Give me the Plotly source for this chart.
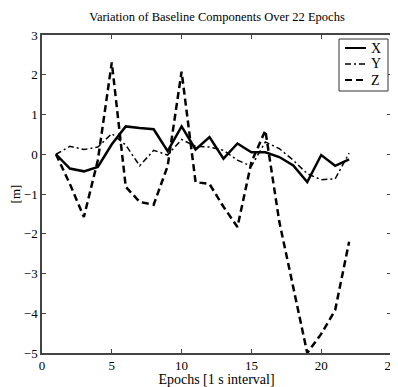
import plotly.graph_objects as go

epochs = list(range(1, 23))
x_vals = [0.0, -0.36, -0.43, -0.32, 0.25, 0.70, 0.66, 0.63, 0.08, 0.70, 0.12, 0.43,
          -0.11, 0.27, 0.05, 0.05, -0.07, -0.28, -0.70, -0.02, -0.29, -0.13]
y_vals = [0.0, 0.20, 0.12, 0.18, 0.52, 0.23, -0.29, 0.10, -0.02, 0.37, 0.20, 0.18,
          0.10, -0.15, -0.30, 0.31, 0.14, -0.15, -0.49, -0.64, -0.62, 0.03]
z_vals = [0.0, -0.75, -1.58, -0.15, 2.31, -0.82, -1.20, -1.27, -0.30, 2.08, -0.70, -0.75,
          -1.32, -1.83, -0.20, 0.60, -1.70, -3.35, -5.0, -4.52, -3.92, -2.20]
series_names = ["X", "Y", "Z"]
title_text = "Variation of Baseline Components Over 22 Epochs"
x_title = "Epochs [1 s interval]"
y_title = "[m]"

FONT = "Liberation Serif"
OFF = 8  # browser body margin
W, H = 398 - OFF, 387 - OFF
ml, mr, mt, mb = 42 - OFF, 7, 35 - OFF, 387 - 353
pw, ph = W - ml - mr, H - mt - mb

fig = go.Figure()
styles = [
    dict(color="black", width=2.5, dash="solid"),
    dict(color="black", width=1.5, dash="6px,3px,2px,3px"),
    dict(color="black", width=2.5, dash="7px,4px"),
]
for name, vals, st in zip(series_names, [x_vals, y_vals, z_vals], styles):
    fig.add_trace(go.Scatter(x=epochs, y=vals, mode="lines", name=name, line=st,
                             showlegend=False))

# page pixel -> paper coords
def px(x):
    return (x - OFF - ml) / pw
def py(y):
    return 1 - (y - OFF - mt) / ph

fig.add_shape(type="rect", xref="paper", yref="paper",
              x0=px(339), x1=px(388), y0=py(91), y1=py(39),
              line=dict(color="#333", width=1), fillcolor="white", layer="above")
for i, (name, st) in enumerate(zip(series_names, styles)):
    yy = 48 + i * 16
    fig.add_shape(type="line", xref="paper", yref="paper",
                  x0=px(345), x1=px(366), y0=py(yy), y1=py(yy),
                  line=dict(color="black", width=min(st["width"], 2), dash=st["dash"]),
                  layer="above")
    fig.add_annotation(xref="paper", yref="paper", x=px(369), y=py(yy), text=name,
                       showarrow=False, xanchor="left", yanchor="middle",
                       font=dict(family=FONT, size=14, color="black"))

fig.update_layout(
    width=W, height=H,
    margin=dict(l=ml, r=mr, t=mt, b=mb, autoexpand=False),
    paper_bgcolor="white", plot_bgcolor="white",
    font=dict(family=FONT, size=13, color="black"),
    title=dict(text=title_text, x=px(217), xanchor="center", xref="paper",
               y=1 - (17 - OFF) / H, yanchor="middle",
               font=dict(family=FONT, size=12.5, color="black")),
    xaxis=dict(range=[0, 25], tickvals=[0, 5, 10, 15, 20, 25], ticks="inside", ticklen=4,
               showgrid=False, zeroline=False, showline=True, linecolor="#444", linewidth=1.5,
               mirror="ticks", tickfont=dict(family=FONT, size=13, color="black"),
               title=dict(text=x_title, standoff=0, font=dict(family=FONT, size=14, color="black"))),
    yaxis=dict(range=[-5, 3], dtick=1, ticks="inside", ticklen=4,
               showgrid=False, zeroline=False, showline=True, linecolor="#444", linewidth=1.5,
               mirror="ticks", tickfont=dict(family=FONT, size=13, color="black"),
               title=dict(text=y_title, standoff=8, font=dict(family=FONT, size=13, color="black"))),
)
fig.write_html("out.html")
